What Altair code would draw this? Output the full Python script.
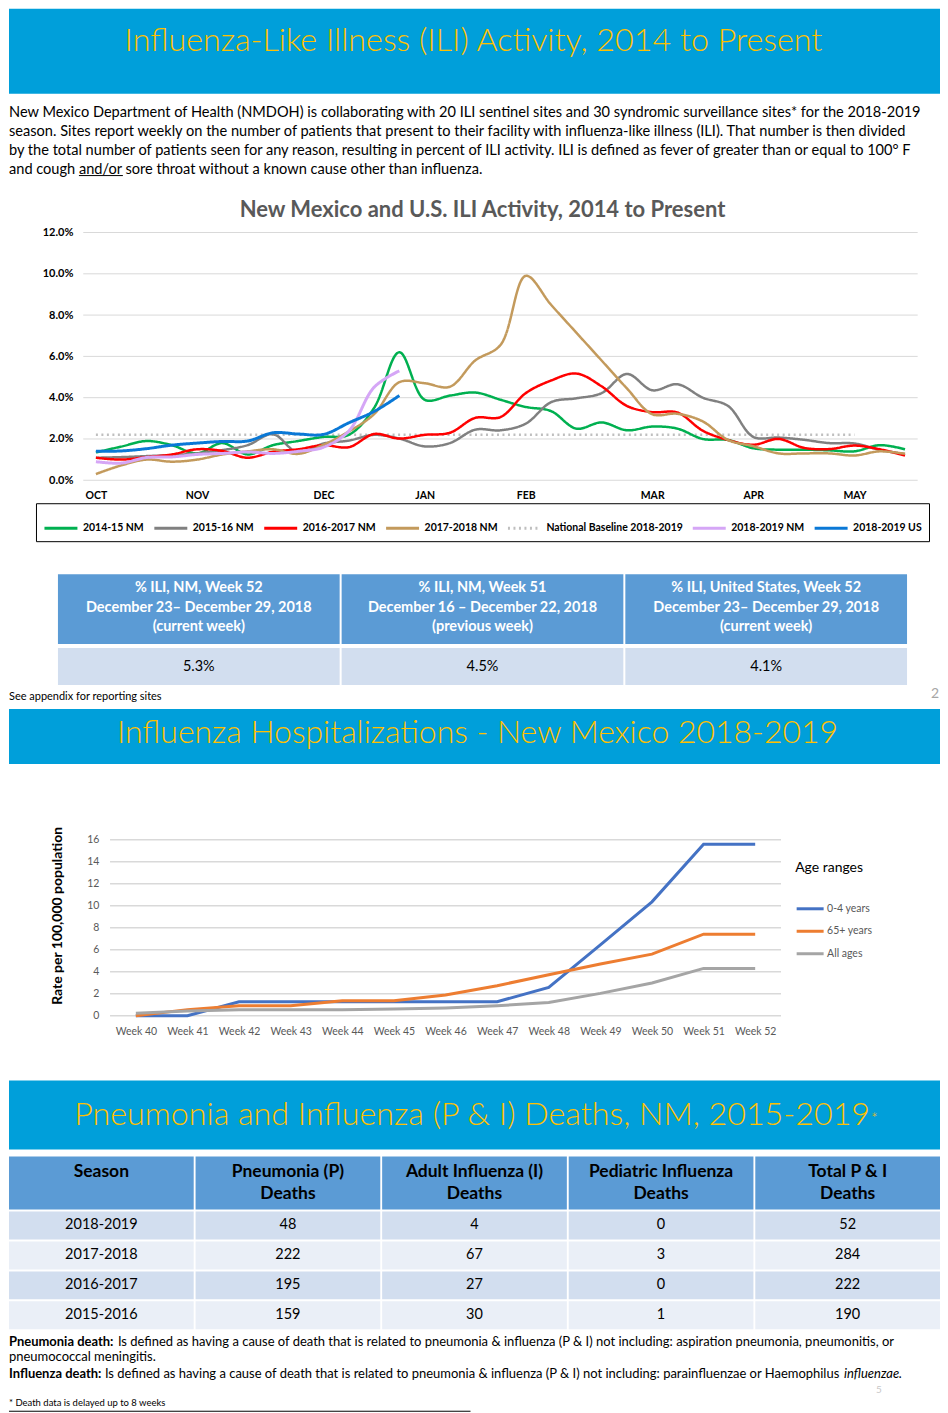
import json
import altair as alt
import pandas as pd

FONT = "Lato"
W = 932
BAND = "#009fda"
GOLD = "#ffc000"
HDR = "#5b9bd5"
ROW_DARK = "#d2deef"
ROW_LIGHT = "#eaeff7"
GRID = "#d9d9d9"

# ---------------- data ----------------
banner1_title = "Influenza-Like Illness (ILI) Activity, 2014 to Present"
intro_lines = [
    "New Mexico Department of Health (NMDOH) is collaborating with 20 ILI sentinel sites and 30 syndromic surveillance sites* for the 2018-2019",
    "season. Sites report weekly on the number of patients that present to their facility with influenza-like illness (ILI). That number is then divided",
    "by the total number of patients seen for any reason, resulting in percent of ILI activity. ILI is defined as fever of greater than or equal to 100\u00b0 F",
    "and cough and/or sore throat without a known cause other than influenza.",
]
ili_title = "New Mexico and U.S. ILI Activity, 2014 to Present"
season_weeks = [40, 41, 42, 43, 44, 45, 46, 47, 48, 49, 50, 51, 52,
                1, 2, 3, 4, 5, 6, 7, 8, 9, 10, 11, 12, 13, 14, 15, 16, 17, 18, 19, 20]
month_labels = ["OCT", "NOV", "DEC", "JAN", "FEB", "MAR", "APR", "MAY"]
month_start_week = [40, 44, 49, 1, 5, 10, 14, 18]
ili_ticks = [0, 2, 4, 6, 8, 10, 12]

ili_2014_15 = [1.35, 1.63, 1.9, 1.7, 1.3, 1.8, 1.25, 1.7, 1.9, 2.1, 2.2, 3.5, 6.2, 3.9, 4.1, 4.25, 3.9,
               3.55, 3.35, 2.5, 2.8, 2.42, 2.6, 2.5, 2.0, 1.95, 1.55, 1.48, 1.48, 1.45, 1.4, 1.7, 1.5]
ili_2015_16 = [1.09, 1.12, 1.17, 1.22, 1.3, 1.46, 1.7, 2.23, 1.33, 1.78, 1.92, 2.2, 2.02, 1.64, 1.8, 2.45, 2.42,
               2.74, 3.78, 3.97, 4.22, 5.15, 4.36, 4.65, 4.0, 3.6, 2.1, 2.07, 1.96, 1.8, 1.78, 1.47, 1.27]
ili_2016_17 = [1.09, 1.0, 1.12, 1.25, 1.5, 1.42, 1.09, 1.38, 1.5, 1.7, 1.6, 2.24, 2.02, 2.2, 2.3, 3.02, 3.06,
               4.22, 4.83, 5.17, 4.55, 3.6, 3.3, 3.28, 2.4, 1.95, 1.72, 2.0, 1.57, 1.51, 1.68, 1.5, 1.2]
ili_2017_18 = [0.3, 0.72, 1.0, 0.9, 1.0, 1.25, 1.4, 1.5, 1.28, 1.72, 2.36, 3.2, 4.75, 4.7, 4.53, 5.8, 6.55,
               9.9, 8.5, 7.15, 5.8, 4.45, 3.2, 3.22, 2.85, 1.95, 1.65, 1.3, 1.3, 1.3, 1.2, 1.4, 1.28]
ili_2018_19_nm = [0.9, 0.83, 1.1, 1.13, 1.25, 1.3, 1.37, 1.3, 1.4, 1.6, 2.38, 4.5, 5.3]
ili_2018_19_us = [1.4, 1.42, 1.53, 1.7, 1.8, 1.88, 1.9, 2.3, 2.24, 2.22, 2.78, 3.33, 4.1]
baseline_value = 2.2
baseline_first_week = 40
baseline_last_week = 18

series_names = ["2014-15 NM", "2015-16 NM", "2016-2017 NM", "2017-2018 NM",
                "National Baseline 2018-2019", "2018-2019 NM", "2018-2019 US"]
series_colors = ["#00b050", "#808080", "#ff0000", "#c39a5c", "#bfbfbf", "#d5a6f6", "#0a78d6"]
series_dashes = [[1, 0], [1, 0], [1, 0], [1, 0], [2, 3.5], [1, 0], [1, 0]]

t1_headers = ["% ILI, NM, Week 52\nDecember 23\u2013 December 29, 2018\n(current week)",
              "% ILI, NM, Week 51\nDecember 16 \u2013 December 22, 2018\n(previous week)",
              "% ILI, United States, Week 52\nDecember 23\u2013 December 29, 2018\n(current week)"]
t1_values = ["5.3%", "4.5%", "4.1%"]
appendix_note = "See appendix for reporting sites"
page2 = "2"

banner2_title = "Influenza Hospitalizations - New Mexico 2018-2019"
hosp_weeks = ["Week 40", "Week 41", "Week 42", "Week 43", "Week 44", "Week 45", "Week 46",
              "Week 47", "Week 48", "Week 49", "Week 50", "Week 51", "Week 52"]
hosp_ticks = [0, 2, 4, 6, 8, 10, 12, 14, 16]
age_groups = ["0-4 years", "65+ years", "All ages"]
age_colors = ["#4472c4", "#ed7d31", "#a5a5a5"]
rate_0_4 = [0, 0, 1.27, 1.27, 1.27, 1.27, 1.27, 1.27, 2.58, 6.45, 10.36, 15.6, 15.6]
rate_65 = [0, 0.55, 0.9, 0.9, 1.36, 1.36, 1.88, 2.73, 3.73, 4.7, 5.6, 7.42, 7.42]
rate_all = [0.21, 0.42, 0.55, 0.55, 0.55, 0.6, 0.7, 0.9, 1.2, 2.03, 2.97, 4.3, 4.3]
hosp_ytitle = "Rate per 100,000 population"

banner3_title = "Pneumonia and Influenza (P & I) Deaths, NM, 2015-2019"
t3_headers = ["Season", "Pneumonia (P)\nDeaths", "Adult Influenza (I)\nDeaths",
              "Pediatric Influenza\nDeaths", "Total P & I\nDeaths"]
seasons = ["2018-2019", "2017-2018", "2016-2017", "2015-2016"]
p_deaths = [48, 222, 195, 159]
i_deaths = [4, 67, 27, 30]
ped_deaths = [0, 3, 0, 1]
total_deaths = [52, 284, 222, 190]

fn1_bold = "Pneumonia death:"
fn1_text = "Is defined as having a cause of death that is related to pneumonia & influenza (P & I) not including: aspiration pneumonia, pneumonitis,  or"
fn2_text = "pneumococcal meningitis."
fn3_bold = "Influenza death:"
fn3_text = "Is defined as having a cause of death that is related to pneumonia & influenza (P & I) not including: parainfluenzae or Haemophilus"
fn3_ital = "influenzae."
fn4_text = "* Death data is delayed up to 8 weeks"
page5 = "5"


# ---------------- helpers ----------------
def tdf(s):
    return pd.DataFrame({"t": [s]})


def label(s, x, y, size, weight="normal", color="black", align="left", baseline="middle", **kw):
    return alt.Chart(tdf(s)).mark_text(
        font=FONT, fontSize=size, fontWeight=weight, color=color, align=align, baseline=baseline, **kw
    ).encode(text="t:N", x=alt.value(x), y=alt.value(y))


def hrule(x0, x1, y, color="black", width=1):
    return alt.Chart(tdf("rule")).mark_rule(color=color, strokeWidth=width).encode(
        x=alt.value(x0), x2=alt.value(x1), y=alt.value(y))


def banner(layers, h):
    return alt.layer(*layers).properties(
        width=W, height=h, view=alt.ViewBackground(fill=BAND, stroke="transparent", strokeWidth=0))


def plain(layers, h):
    return alt.layer(*layers).properties(width=W, height=h)


# ---------------- page 1: ILI ----------------
p_banner1 = banner([label(banner1_title, 465, 32, 32.3, weight=300, color=GOLD, align="center")], 85)

p_intro = plain([label("\n".join(intro_lines), 0, 11, 14.6, baseline="top", lineBreak="\n", lineHeight=19),
                 hrule(70, 114, 82)], 95)

idx_of = {w: i for i, w in enumerate(season_weeks)}
month_idx = [idx_of[w] for w in month_start_week]

rows = []
for name, vals in zip(series_names, [ili_2014_15, ili_2015_16, ili_2016_17, ili_2017_18, None,
                                     ili_2018_19_nm, ili_2018_19_us]):
    if vals is None:
        continue
    for i, v in enumerate(vals):
        rows.append({"series": name, "idx": i, "value": v})
ili_df = pd.DataFrame(rows)
old_df = ili_df[ili_df.series.isin(series_names[:4])]
cur_df = ili_df[ili_df.series.isin(series_names[5:])]
base_df = pd.DataFrame({"series": [series_names[4]], "value": [baseline_value],
                        "start": [idx_of[baseline_first_week]], "end": [idx_of[baseline_last_week]]})

H1 = 386
xs1 = alt.Scale(domain=[-3.437, 33.383], nice=False, zero=False)
ys1 = alt.Scale(domain=[-4.548, 14.129], nice=False, zero=False)
month_expr = f"{json.dumps(month_labels)}[indexof({json.dumps(month_idx)}, datum.value)]"
xax1 = alt.Axis(values=month_idx, labelExpr=month_expr, offset=-84, domain=False, ticks=False, grid=False,
                labelPadding=0, labelFont=FONT, labelFontSize=10.5, labelFontWeight="bold", labelColor="black",
                title=None, labelFlush=False, labelOverlap=False)
yax1 = alt.Axis(values=ili_ticks, labelExpr="format(datum.value, '.1f') + '%'", offset=-64, domain=False,
                ticks=False, grid=False, labelPadding=0, labelFont=FONT, labelFontSize=11,
                labelFontWeight="bold", labelColor="black", title=None)
leg1 = alt.Legend(orient="none", legendX=27, legendY=315, direction="horizontal", title=None,
                  symbolType="stroke", symbolSize=1089, symbolStrokeWidth=3, labelFont=FONT,
                  labelFontSize=10.5, labelFontWeight="bold", labelColor="black", labelOffset=4,
                  columnPadding=3, padding=7, strokeColor="black", labelLimit=400)
c_enc = alt.Color("series:N", scale=alt.Scale(domain=series_names, range=series_colors), legend=leg1)
d_enc = alt.StrokeDash("series:N", scale=alt.Scale(domain=series_names, range=series_dashes), legend=leg1)

grid1 = alt.Chart(pd.DataFrame({"v": ili_ticks})).mark_rule(color=GRID, strokeWidth=1).encode(
    y=alt.Y("v:Q", scale=ys1, axis=yax1), x=alt.datum(-0.5), x2=alt.datum(32.5))
base1 = alt.Chart(base_df).mark_rule(strokeWidth=2.5).encode(
    x=alt.X("start:Q", scale=xs1, axis=xax1), x2="end:Q", y=alt.Y("value:Q", scale=ys1, axis=yax1),
    color=c_enc, strokeDash=d_enc)
old1 = alt.Chart(old_df).mark_line(strokeWidth=2.5, interpolate="catmull-rom").encode(
    x=alt.X("idx:Q", scale=xs1, axis=xax1), y=alt.Y("value:Q", scale=ys1, axis=yax1),
    color=c_enc, strokeDash=d_enc)
cur1 = alt.Chart(cur_df).mark_line(strokeWidth=3, interpolate="catmull-rom").encode(
    x=alt.X("idx:Q", scale=xs1, axis=xax1), y=alt.Y("value:Q", scale=ys1, axis=yax1),
    color=c_enc, strokeDash=d_enc)
title1 = label(ili_title, 474, 21, 22, weight="bold", color="#595959", align="center")
p_chart1 = alt.layer(grid1, base1, old1, cur1, title1).properties(width=W, height=H1)

# table 1 (header panel includes the white gap below it)
t1x = alt.Scale(domain=t1_headers, range=[49, 899], paddingInner=0.007, paddingOuter=0)
t1h_df = pd.DataFrame({"col": t1_headers})
t1h = alt.layer(
    alt.Chart(t1h_df).mark_rect(color=HDR).encode(
        x=alt.X("col:N", scale=t1x, axis=None, sort=None), y=alt.value(0), y2=alt.value(70)),
    alt.Chart(t1h_df).mark_text(font=FONT, fontSize=14.5, fontWeight="bold", color="white", baseline="top",
                                lineBreak="\n", lineHeight=19.5).encode(
        x=alt.X("col:N", scale=t1x, axis=None, sort=None, bandPosition=0.5), y=alt.value(7), text="col:N"),
).properties(width=W, height=74)
t1b_df = pd.DataFrame({"col": t1_headers, "val": t1_values})
t1b = alt.layer(
    alt.Chart(t1b_df).mark_rect(color=ROW_DARK).encode(
        x=alt.X("col:N", scale=t1x, axis=None, sort=None), y=alt.value(0), y2=alt.value(37)),
    alt.Chart(t1b_df).mark_text(font=FONT, fontSize=14.5, color="black", baseline="middle").encode(
        x=alt.X("col:N", scale=t1x, axis=None, sort=None, bandPosition=0.5), y=alt.value(19), text="val:N"),
).properties(width=W, height=37)

p_foot1 = plain([label(appendix_note, 0, 12, 11),
                 label(page2, 931, 9, 14, color="#a6a6a6", align="right")], 24)

# ---------------- page 2: hospitalizations ----------------
p_banner2 = banner([label(banner2_title, 469, 24, 32, weight=300, color=GOLD, align="center")], 55)

H2 = 317
hosp_rows = []
for g, vals in zip(age_groups, [rate_0_4, rate_65, rate_all]):
    for i, v in enumerate(vals):
        hosp_rows.append({"age": g, "wk": i, "rate": v})
hosp_df = pd.DataFrame(hosp_rows)
xs2 = alt.Scale(domain=[-2.458, 15.581], nice=False, zero=False)
ys2 = alt.Scale(domain=[-5.909, 22.909], nice=False, zero=False)
week_expr = f"{json.dumps(hosp_weeks)}[datum.value]"
xax2 = alt.Axis(values=list(range(len(hosp_weeks))), labelExpr=week_expr, offset=-54, domain=False,
                ticks=False, grid=False, labelPadding=0, labelFont=FONT, labelFontSize=10.5,
                labelColor="#595959", title=None, labelFlush=False, labelOverlap=False)
yax2 = alt.Axis(values=hosp_ticks, offset=-90, domain=False, ticks=False, grid=False, labelPadding=0,
                labelFont=FONT, labelFontSize=10.5, labelColor="#595959", title=None)
leg2 = alt.Legend(orient="none", legendX=787, legendY=97, title="Age ranges", titleFont=FONT,
                  titleFontSize=14, titleFontWeight="normal", titleColor="black", titlePadding=19,
                  symbolType="stroke", symbolSize=729, symbolStrokeWidth=3, labelFont=FONT,
                  labelFontSize=10.5, labelColor="#595959", labelOffset=2, rowPadding=1.5, padding=0)
grid2 = alt.Chart(pd.DataFrame({"v": hosp_ticks})).mark_rule(color=GRID, strokeWidth=1.5).encode(
    y=alt.Y("v:Q", scale=ys2, axis=yax2), x=alt.datum(-0.5), x2=alt.datum(12.5))
lines2 = alt.Chart(hosp_df).mark_line(strokeWidth=3).encode(
    x=alt.X("wk:Q", scale=xs2, axis=xax2), y=alt.Y("rate:Q", scale=ys2, axis=yax2),
    color=alt.Color("age:N", scale=alt.Scale(domain=age_groups, range=age_colors), legend=leg2))
ytitle2 = label(hosp_ytitle, 49, 152, 14, weight="bold", align="center", angle=270)
p_chart2 = alt.layer(grid2, lines2, ytitle2).properties(width=W, height=H2)

# ---------------- page 3: deaths ----------------
p_banner3 = banner([label(banner3_title, 862, 34, 32.3, weight=300, color=GOLD, align="right"),
                    label("*", 863, 38, 16, weight=300, color=GOLD, align="left")], 69)

# header panel: 7px white gap above, 53px header, 2px white gap below
t3x = alt.Scale(domain=t3_headers, range=[0, W], paddingInner=0.01, paddingOuter=0)
t3h_df = pd.DataFrame({"col": t3_headers})
t3h = alt.layer(
    alt.Chart(t3h_df).mark_rect(color=HDR).encode(
        x=alt.X("col:N", scale=t3x, axis=None, sort=None), y=alt.value(7), y2=alt.value(60)),
    alt.Chart(t3h_df).mark_text(font=FONT, fontSize=17.5, fontWeight="bold", color="black", baseline="top",
                                lineBreak="\n", lineHeight=23).encode(
        x=alt.X("col:N", scale=t3x, axis=None, sort=None, bandPosition=0.5), y=alt.value(13), text="col:N"),
).properties(width=W, height=62)

body_rows = []
for r, s in enumerate(seasons):
    vals = [s, p_deaths[r], i_deaths[r], ped_deaths[r], total_deaths[r]]
    for c, v in zip(t3_headers, vals):
        body_rows.append({"row": s, "col": c, "val": str(v)})
t3b_df = pd.DataFrame(body_rows)
t3y = alt.Scale(domain=seasons, paddingInner=0.067, paddingOuter=0)
t3b = alt.layer(
    alt.Chart(t3b_df).mark_rect().encode(
        x=alt.X("col:N", scale=t3x, axis=None, sort=None),
        y=alt.Y("row:N", scale=t3y, axis=None, sort=None),
        fill=alt.Fill("row:N", scale=alt.Scale(domain=seasons,
                                               range=[ROW_DARK, ROW_LIGHT, ROW_DARK, ROW_LIGHT]),
                      legend=None)),
    alt.Chart(t3b_df).mark_text(font=FONT, fontSize=14.5, color="black", baseline="middle").encode(
        x=alt.X("col:N", scale=t3x, axis=None, sort=None, bandPosition=0.5),
        y=alt.Y("row:N", scale=t3y, axis=None, sort=None, bandPosition=0.5), text="val:N"),
).properties(width=W, height=118)

p_notes = plain([
    label(fn1_bold, 0, 13, 13, weight="bold"),
    label(fn1_text, 109, 13, 13),
    label(fn2_text, 0, 28, 13),
    label(fn3_bold, 0, 45, 13, weight="bold"),
    label(fn3_text, 96, 45, 13),
    label(fn3_ital, 836, 45, 13, fontStyle="italic"),
    label(page5, 868, 61, 10, color="#c8c8c8"),
    label(fn4_text, 0, 74, 9.5),
    hrule(0, 462, 82),
], 83)

chart = alt.vconcat(
    p_banner1, p_intro, p_chart1, t1h, t1b, p_foot1, p_banner2, p_chart2,
    p_banner3, t3h, t3b, p_notes,
    spacing=0, bounds="flush",
).resolve_scale(
    color="independent", strokeDash="independent", fill="independent"
).resolve_legend(
    color="independent", strokeDash="independent", fill="independent"
).properties(padding=0).configure_view(stroke="transparent", strokeWidth=0)

chart.save("out.html", embed_options={"renderer": "svg", "actions": False})
